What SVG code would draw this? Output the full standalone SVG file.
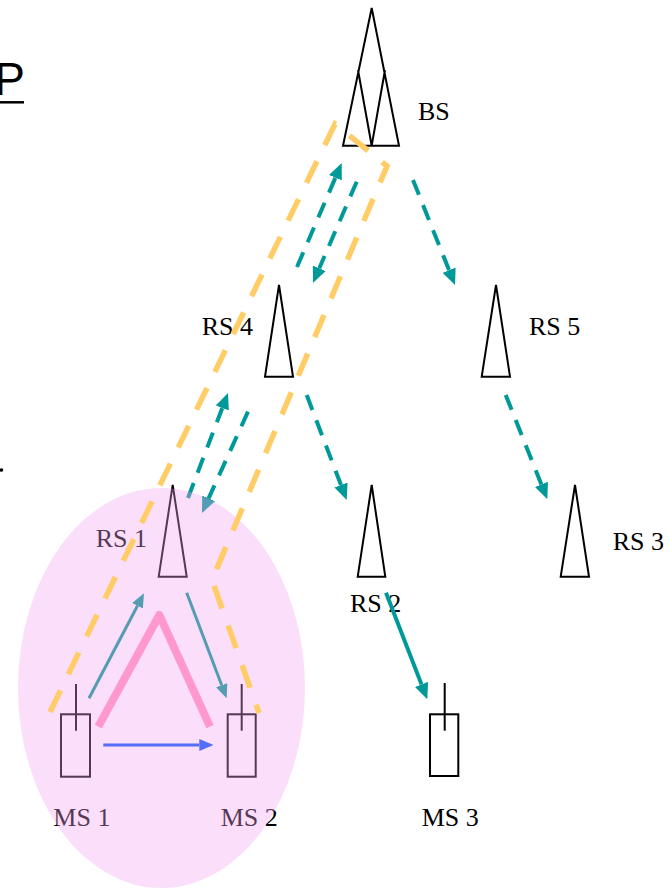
<svg xmlns="http://www.w3.org/2000/svg" width="670" height="888" viewBox="0 0 670 888">
<style>
.node{fill:none;stroke:#000;stroke-width:2;stroke-linejoin:miter}
.lbl{font-family:"Liberation Serif","Times New Roman",serif;font-size:26px;fill:#000}
.teal{fill:none;stroke:#009999;stroke-width:4;stroke-dasharray:16 11}
.tealsolid{fill:none;stroke:#009999;stroke-width:4}
.thin{fill:none;stroke:#009a90;stroke-width:3}
.blue{fill:none;stroke:#0053ff;stroke-width:3}
.yellow{fill:none;stroke:#ffcc66;stroke-width:5.5;stroke-dasharray:24 18}
.pink{fill:none;stroke:#ff99cc;stroke-width:8;stroke-linejoin:round}
</style>
<defs>
<marker id="ahT" viewBox="0 0 16 14" refX="0" refY="7" markerWidth="16" markerHeight="14" markerUnits="userSpaceOnUse" orient="auto"><path d="M0,0 L16,7 L0,14 z" fill="#009999"/></marker>
<marker id="ahS" viewBox="0 0 14 12" refX="0" refY="6" markerWidth="14" markerHeight="12" markerUnits="userSpaceOnUse" orient="auto"><path d="M0,0 L14,6 L0,12 z" fill="#009a90"/></marker>
<marker id="ahB" viewBox="0 0 14 12" refX="0" refY="6" markerWidth="14" markerHeight="12" markerUnits="userSpaceOnUse" orient="auto"><path d="M0,0 L14,6 L0,12 z" fill="#0053ff"/></marker>
</defs>
<rect width="670" height="888" fill="#fff"/>
<g id="title">
<text x="-5.8" y="95" font-family="'Liberation Sans',Arial,sans-serif" font-size="46" fill="#000">P</text>
<line x1="0" y1="102.3" x2="24" y2="102.3" stroke="#000" stroke-width="2.5"/>
<circle cx="1.5" cy="470" r="1.8" fill="#000"/>
</g>
<g id="BS">
<path class="node" d="M371.7,8 L343,145.7 L399,145.7 Z M358,70 L371.7,145.7 L385,70"/>
<text class="lbl" x="418" y="120">BS</text>
</g>
<g id="RS4">
<path class="node" d="M279,285 L265,376.7 L293,376.7 Z"/>
<text class="lbl" x="201.7" y="335">RS 4</text>
</g>
<g id="RS5">
<path class="node" d="M496,285 L481.7,376.7 L510,376.7 Z"/>
<text class="lbl" x="529" y="335">RS 5</text>
</g>
<g id="RS1">
<path class="node" d="M172.7,485 L158.7,576.7 L186.7,576.7 Z"/>
<text class="lbl" x="95.7" y="546.7">RS 1</text>
</g>
<g id="RS2">
<path class="node" d="M371.7,485 L357.7,576.7 L385.3,576.7 Z"/>
<text class="lbl" x="350" y="611.7">RS 2</text>
</g>
<g id="RS3">
<path class="node" d="M575,485 L560.7,576.7 L589,576.7 Z"/>
<text class="lbl" x="612.7" y="550">RS 3</text>
</g>
<g id="MS1">
<rect class="node" x="61" y="714.3" width="29" height="62.4"/>
<line class="node" x1="76" y1="684" x2="76" y2="730.7"/>
<text class="lbl" x="53.3" y="826">MS 1</text>
</g>
<g id="MS2">
<rect class="node" x="227.7" y="714.3" width="28" height="62.4"/>
<line class="node" x1="241.7" y1="684" x2="241.7" y2="730.7"/>
<text class="lbl" x="220.7" y="826">MS 2</text>
</g>
<g id="MS3">
<rect class="node" x="430" y="714.3" width="28.3" height="61.7"/>
<line class="node" x1="444.7" y1="683" x2="444.7" y2="730.7"/>
<text class="lbl" x="421.7" y="826">MS 3</text>
</g>
<g id="connectors">
<path class="teal" d="M413,180 L449.1,270.2" marker-end="url(#ahT)"/>
<path class="teal" d="M297,267 L335.4,177.7" marker-end="url(#ahT)"/>
<path class="teal" d="M356.7,181.7 L319.3,268.3" marker-end="url(#ahT)"/>
<path class="teal" d="M188,498 L222.3,408" marker-end="url(#ahT)"/>
<path class="teal" d="M248,411.7 L208.6,498.4" marker-end="url(#ahT)"/>
<path class="teal" d="M306.7,395 L341,485" marker-end="url(#ahT)"/>
<path class="teal" d="M505.7,395 L541.4,484.4" marker-end="url(#ahT)"/>
<path class="tealsolid" d="M386,592.7 L421.5,684.4" marker-end="url(#ahT)"/>
<path class="thin" d="M89,698.3 L137.5,605.7" marker-end="url(#ahS)"/>
<path class="thin" d="M186.7,592.7 L221.7,685.2" marker-end="url(#ahS)"/>
<path class="blue" d="M103.3,745 L199.3,745" marker-end="url(#ahB)"/>
</g>
<g id="cluster">
<ellipse cx="161.5" cy="688" rx="143.5" ry="200" fill="#f0a0f0" fill-opacity="0.35"/>
</g>
<g id="paths">
<path class="pink" d="M98.3,726.7 L159.3,615 L210,726.7"/>
<path class="yellow" d="M50,712 L335,124 L387,166 L212,580 L259,713"/>
</g>
</svg>
